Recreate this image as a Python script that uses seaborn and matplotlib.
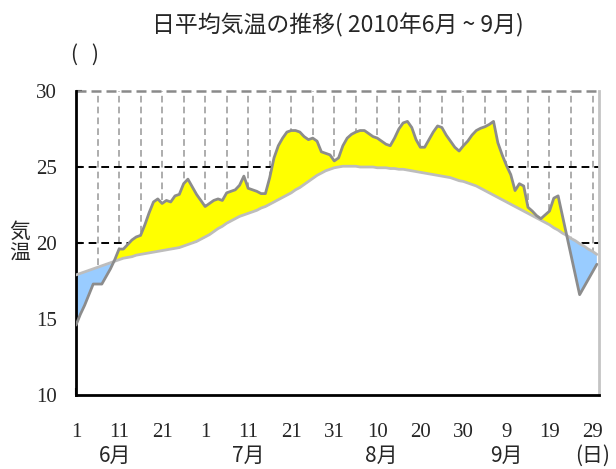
import numpy as np
import pandas as pd
import matplotlib
matplotlib.use("Agg")
import matplotlib.pyplot as plt
import matplotlib.transforms as mtransforms
import seaborn as sns

# ---- data (June 1 .. Sep 30, 2010) ----
actual = [14.6, 15.3, 15.9, 16.6, 17.3, 17.3, 17.3, 17.8, 18.3, 18.9,
          19.6, 19.6, 19.9, 20.2, 20.4, 20.5, 21.2, 22.0, 22.7, 22.9,
          22.6, 22.8, 22.7, 23.1, 23.2, 23.9, 24.2, 23.7, 23.2, 22.8,
          22.4, 22.6, 22.8, 22.9, 22.8, 23.3, 23.4, 23.5, 23.8, 24.4,
          23.6, 23.5, 23.4, 23.25, 23.25, 24.3, 25.6, 26.4, 26.9, 27.3,
          27.4, 27.4, 27.3, 27.0, 26.8, 26.9, 26.7, 26.0, 25.9, 25.8,
          25.4, 25.6, 26.4, 26.9, 27.15, 27.3, 27.4, 27.4, 27.2, 27.0,
          26.9, 26.7, 26.5, 26.4, 26.9, 27.5, 27.9, 28.0, 27.6, 26.8,
          26.3, 26.3, 26.8, 27.3, 27.7, 27.6, 27.1, 26.7, 26.3, 26.05,
          26.4, 26.7, 27.1, 27.4, 27.55, 27.65, 27.8, 28.0, 26.6, 25.8,
          25.1, 24.5, 23.45, 23.9, 23.75, 22.35, 22.1, 21.8, 21.6, 21.85,
          22.1, 22.95, 23.1, 21.8, 20.5, 19.2, 17.9, 16.6, 17.1, 17.6,
          18.1, 18.6]
normal = [17.9, 18.0, 18.1, 18.2, 18.3, 18.4, 18.5, 18.6, 18.7, 18.8,
          18.9, 19.0, 19.05, 19.1, 19.2, 19.25, 19.3, 19.35, 19.4, 19.45,
          19.5, 19.55, 19.6, 19.65, 19.7, 19.8, 19.9, 20.0, 20.1, 20.25,
          20.4, 20.55, 20.75, 20.95, 21.1, 21.3, 21.45, 21.6, 21.75, 21.85,
          21.95, 22.05, 22.15, 22.3, 22.4, 22.55, 22.7, 22.85, 23.0, 23.15,
          23.3, 23.5, 23.65, 23.85, 24.05, 24.25, 24.45, 24.6, 24.75, 24.85,
          24.95, 25.0, 25.05, 25.05, 25.05, 25.05, 25.0, 25.0, 25.0, 25.0,
          24.95, 24.95, 24.95, 24.9, 24.9, 24.85, 24.85, 24.8, 24.75, 24.7,
          24.65, 24.6, 24.55, 24.5, 24.45, 24.4, 24.35, 24.3, 24.2, 24.1,
          24.05, 23.95, 23.85, 23.75, 23.6, 23.45, 23.3, 23.15, 23.0, 22.85,
          22.7, 22.55, 22.4, 22.25, 22.1, 21.95, 21.8, 21.65, 21.5, 21.35,
          21.2, 21.0, 20.85, 20.65, 20.5, 20.3, 20.15, 19.95, 19.8, 19.6,
          19.45, 19.25]
tick_pos = [0, 10, 20, 30, 40, 50, 60, 70, 80, 90, 100, 110, 120]
tick_labels = ["1", "11", "21", "1", "11", "21", "31", "10", "20", "30", "9", "19", "29"]
month_pos = [9, 40, 71, 100, 120]
month_labels = ["6月", "7月", "8月", "9月", "(日)"]
y_ticks = [10, 15, 20, 25, 30]

day = np.arange(len(actual))
df = pd.DataFrame({"day": day, "actual": actual, "normal": normal})
a = df["actual"].to_numpy()
n = df["normal"].to_numpy()

sns.set_style("white")
cjk = ["Noto Sans CJK JP", "DejaVu Sans"]
plt.rcParams["font.family"] = cjk

fig = plt.figure(figsize=(6.16, 4.69), dpi=100)
ax = fig.add_axes([76/616, 1-395/469, (599-76)/616, (395-91)/469])
ax.set_xlim(0, 121.5)
ax.set_ylim(10, 30)

# gridlines (hidden below the curves by the white base fill)
ax.vlines(np.arange(5, 121, 5), 10, 30, colors="#a0a0a0", linestyles=(0, (4, 2.5)), lw=1.2, zorder=0.5)
for yv in [20, 25]:
    ax.axhline(yv, color="black", ls=(0, (4, 2.5)), lw=1.4, zorder=0.6)
ax.axhline(30, color="#8a8a8a", ls=(0, (4, 2)), lw=1.8, zorder=0.6, clip_on=False)

ax.fill_between(day, 10, np.minimum(a, n), color="white", zorder=1, lw=0)
ax.fill_between(day, n, a, where=a >= n, interpolate=True, color="#FFFF00", lw=0, zorder=2)
ax.fill_between(day, n, a, where=a <= n, interpolate=True, color="#99CCFF", lw=0, zorder=2)

sns.lineplot(data=df, x="day", y="normal", ax=ax, color="#bdbdbd", lw=2, zorder=3)
sns.lineplot(data=df, x="day", y="actual", ax=ax, color="#8c8c8c", lw=2, zorder=4)

ax.set_xlabel("")
ax.set_ylabel("")

for s in ["left", "bottom"]:
    ax.spines[s].set_color("black")
    ax.spines[s].set_linewidth(2)
ax.spines["top"].set_visible(False)
ax.spines["right"].set_color("#c4c4c4")
ax.spines["right"].set_linewidth(2)

ax.set_xticks(np.arange(0, 122, 5))
ax.set_xticklabels([])
ax.tick_params(axis="x", direction="in", length=5, width=1.5, color="black", bottom=True)
ax.set_yticks(y_ticks)
ax.set_yticklabels([str(v) for v in y_ticks], fontfamily="Liberation Serif", fontsize=15)
ax.tick_params(axis="y", direction="in", length=4, width=1.5, color="black", left=True, pad=14)

trans = mtransforms.blended_transform_factory(ax.transData, ax.transAxes)
for p, t in zip(tick_pos, tick_labels):
    ax.text(p, (395-432)/304, t, transform=trans, ha="center", va="center",
            fontfamily="Liberation Serif", fontsize=15)
for p, t in zip(month_pos, month_labels):
    ax.text(p, (395-456)/304, t, transform=trans, ha="center", va="center",
            fontfamily=cjk, fontsize=15)

fig.text(338/616, 1-25/469, "日平均気温の推移( 2010年6月 ~ 9月)", ha="center", va="center",
         fontfamily=cjk, fontsize=16.5)
fig.text(85/616, 1-55/469, "(   )", ha="center", va="center", fontfamily=cjk, fontsize=15)
fig.text(20/616, 1-243/469, "気\n温", ha="center", va="center", fontfamily=cjk,
         fontsize=15, linespacing=1.0)

fig.savefig("out.png", dpi=100)
